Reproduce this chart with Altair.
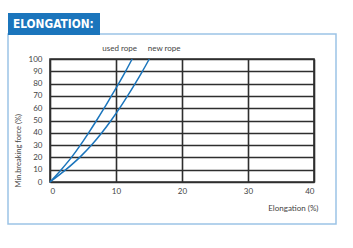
import altair as alt
import pandas as pd

force = [0, 10, 20, 30, 40, 50, 60, 70, 80, 90, 100]
used_rope = [0, 1.7, 3.25, 4.6, 5.85, 7.05, 8.2, 9.3, 10.4, 11.45, 12.45]
new_rope = [0, 2.4, 4.5, 6.3, 7.85, 9.25, 10.55, 11.75, 12.9, 14.0, 15.05]
label_names = ["used rope", "new rope"]
label_x = [10.56, 17.3]
label_y = [108.5, 108.5]
x_ticks = [0, 10, 20, 30, 40]
y_ticks = [0, 10, 20, 30, 40, 50, 60, 70, 80, 90, 100]

W, H = 264, 123
BLUE = "#1b75bc"
FONT = "Lato"

rows = []
for f, u, n in zip(force, used_rope, new_rope):
    rows.append({"series": "used", "elong": u, "force": f})
    rows.append({"series": "new", "elong": n, "force": f})
df = pd.DataFrame(rows)

xs = alt.Scale(domain=[0, 40], nice=False, zero=False)
ys = alt.Scale(domain=[0, 100], nice=False, zero=False)

x_axis = alt.Axis(values=x_ticks, title="Elongation (%)", ticks=False, domain=False,
                  grid=True, gridColor="#2e2e2e", gridWidth=1.6, labelOverlap=False,
                  labelFont=FONT, labelFontSize=8, labelColor="#444444", labelPadding=5,
                  titleFont=FONT, titleFontSize=8, titleFontWeight="normal", titleColor="#444444",
                  titleAnchor="end", titleAlign="right", titleX=268, titleY=26, titleBaseline="middle")
y_axis = alt.Axis(values=y_ticks, title="Min.breaking force (%)", ticks=False, domain=False,
                  grid=True, gridColor="#2e2e2e", gridWidth=1.6, labelOverlap=False,
                  labelFont=FONT, labelFontSize=8, labelColor="#444444", labelPadding=8,
                  titleFont=FONT, titleFontSize=7.5, titleFontWeight="normal", titleColor="#444444",
                  titleAngle=270, titleAlign="left", titleBaseline="middle",
                  titleX=-32, titleY=128)

lines = alt.Chart(df).mark_line(color=BLUE, strokeWidth=1.5, interpolate="monotone", clip=False).encode(
    x=alt.X("elong:Q", scale=xs, axis=x_axis),
    y=alt.Y("force:Q", scale=ys, axis=y_axis),
    detail="series:N",
)

lab_df = pd.DataFrame({"name": label_names, "x": label_x, "y": label_y})
labels = alt.Chart(lab_df).mark_text(font=FONT, fontSize=8, color="#444444", clip=False).encode(
    x=alt.X("x:Q", scale=xs, axis=x_axis), y=alt.Y("y:Q", scale=ys, axis=y_axis), text="name:N"
)

one = pd.DataFrame({"a": [0]})
frame = alt.Chart(one).mark_rect(fill=None, stroke="#9cc3e6", strokeWidth=1.5, clip=False).encode(
    x=alt.value(-42), x2=alt.value(286), y=alt.value(-25), y2=alt.value(165)
)
title_box = alt.Chart(one).mark_rect(fill=BLUE, clip=False).encode(
    x=alt.value(-42), x2=alt.value(50), y=alt.value(-46), y2=alt.value(-24)
)
title_text = alt.Chart(one).mark_text(text="ELONGATION:",
                                      font="DejaVu Sans Condensed, Roboto Condensed, Roboto",
                                      fontWeight="bold", fontSize=11.8, color="white",
                                      align="left", baseline="middle", clip=False).encode(
    x=alt.value(-37), y=alt.value(-35)
)

chart = alt.layer(frame, title_box, title_text, lines, labels).properties(
    width=W, height=H,
    padding={"left": 50, "top": 59, "right": 39, "bottom": 66},
    autosize=alt.AutoSizeParams(type="none"),
    background="white",
).configure_view(stroke="#2e2e2e", strokeWidth=1.6)

chart.save("out.html", embed_options={"renderer": "svg", "actions": False})
